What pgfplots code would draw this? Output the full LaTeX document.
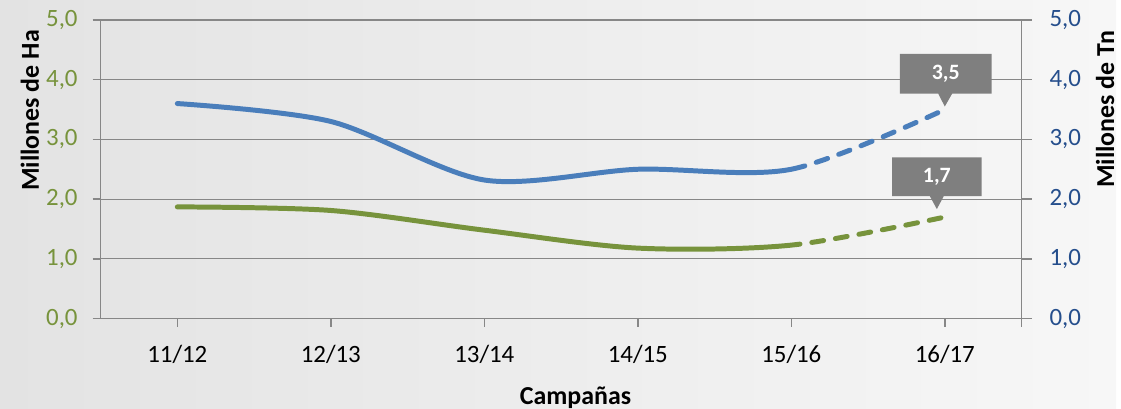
\documentclass[border=0pt]{standalone}
\usepackage{fontspec}
\setmainfont{Carlito}
\usepackage{pgfplots}
\pgfplotsset{compat=1.18}
\usetikzlibrary{shapes.callouts,calc}
\definecolor{haGreen}{HTML}{77933C}
\definecolor{tnBlue}{HTML}{4A7EBB}
\definecolor{tnLabel}{HTML}{254E8C}
\definecolor{axGray}{HTML}{878787}
\definecolor{boxGray}{HTML}{7F7F7F}
\definecolor{bgLeft}{HTML}{E3E3E3}
\definecolor{bgRight}{HTML}{F7F7F7}

\pgfplotsset{
  chartbase/.style={
    scale only axis, width=462.5pt, height=150pt,
    at={(50.5pt,45pt)}, anchor=south west,
    xmin=-0.5, xmax=5.5, ymin=0, ymax=5,
    ytick={0,1,2,3,4,5},
    tick align=outside, major tick length=4pt,
    tick style={axGray, line width=0.7pt},
    axis line style={axGray, line width=0.7pt, -},
    yticklabel style={font=\fontsize{12.5}{15}\selectfont},
    xticklabel style={font=\fontsize{12.5}{15}\selectfont, black},
    /pgf/number format/.cd, fixed, fixed zerofill, precision=1, use comma, assume math mode=true,
  },
  % one smooth series; solid up to 15/16, dashed for the last campaign
  lastdashed/.style={line width=2.5pt, smooth, line cap=round,
    dash pattern=on #1 off 6pt on 6pt off 6pt on 6pt off 6pt on 6pt off 6pt on 6pt off 6pt on 6pt off 6pt on 6pt off 6pt on 6pt off 6pt on 6pt off 6pt on 6pt off 60pt},
}

\begin{document}
\begin{tikzpicture}
\shade[left color=bgLeft, right color=bgRight] (0,0) rectangle (560.5pt,205pt);

% left axis: grid, x ticks, hectares scale
\begin{axis}[chartbase,
  axis x line*=bottom, axis y line*=left,
  ymajorgrids, grid style={axGray, line width=0.6pt},
  xtick={0,1,2,3,4,5},
  xticklabels={11/12,12/13,13/14,14/15,15/16,16/17},
  extra x ticks={5.5}, extra x tick labels={},
  extra x tick style={grid=none},
  yticklabel style={haGreen, xshift=-4pt},
  xticklabel style={yshift=-6pt},
]
\end{axis}

% right axis: tonnes scale, plus both series
\begin{axis}[chartbase,
  axis x line=none, axis y line*=right,
  major tick length=5pt,
  yticklabel style={tnLabel, xshift=5.5pt},
]
\addplot[tnBlue, lastdashed=322pt] coordinates {
  (0,3.60) (1,3.30) (2,2.32) (3,2.50) (4,2.50) (5,3.50)};
\addplot[haGreen, lastdashed=314pt] coordinates {
  (0,1.87) (1,1.81) (2,1.48) (3,1.18) (4,1.23) (5,1.70)};
\coordinate (pTn) at (axis cs:5,3.5);
\coordinate (pHa) at (axis cs:5,1.7);
\end{axis}

\node[rectangle callout, fill=boxGray, text=white, inner sep=0pt,
  minimum width=46pt, minimum height=20pt,
  font=\bfseries\fontsize{11}{13}\selectfont,
  callout absolute pointer={($(pTn)+(0pt,1.5pt)$)}, callout pointer width=7pt]
  at ($(pTn)+(0.5pt,18pt)$) {3,5};
\node[rectangle callout, fill=boxGray, text=white, inner sep=0pt,
  minimum width=45pt, minimum height=19.5pt,
  font=\bfseries\fontsize{11}{13}\selectfont,
  callout absolute pointer={($(pHa)+(-4pt,4pt)$)}, callout pointer width=7pt]
  at ($(pHa)+(-4pt,20.25pt)$) {1,7};

\node[rotate=90, font=\bfseries\fontsize{13}{15}\selectfont] at (15pt,149.5pt) {Millones de Ha};
\node[rotate=90, font=\bfseries\fontsize{13}{15}\selectfont] at (555pt,150pt) {Millones de Tn};
\node[anchor=base, inner sep=0pt, text depth=0pt, font=\bfseries\fontsize{13}{15}\selectfont] at (289pt,1.8pt) {Campañas};
\end{tikzpicture}
\end{document}
